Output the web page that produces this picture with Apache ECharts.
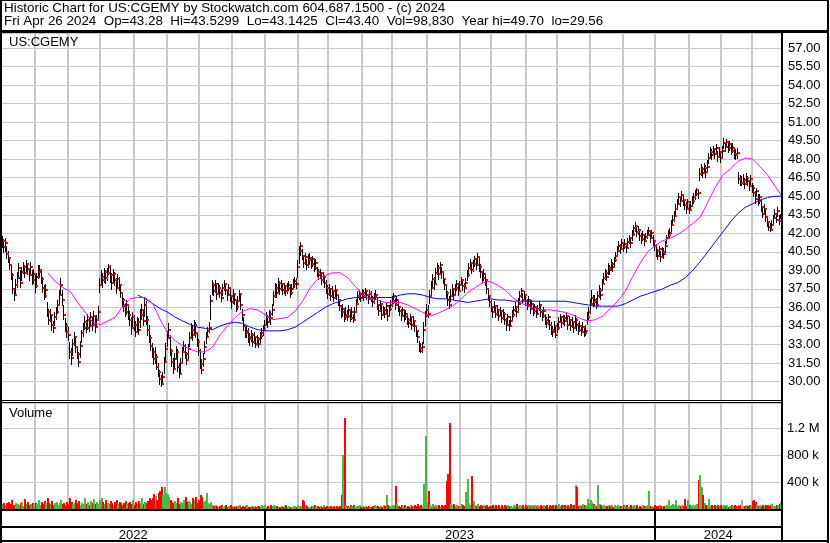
<!DOCTYPE html>
<html><head><meta charset="utf-8">
<script src="https://cdn.jsdelivr.net/npm/echarts@6/dist/echarts.min.js"></script>
<style>html,body{margin:0;padding:0;background:#fff}#c{width:830px;height:543px}</style>
</head><body><div id="c"></div><script>
// ---- data ----
const firstTradingDay = '2022-05-02';
const close = [
41.4,40.9,41.2,40.3,40.0, 39.4,38.6,37.5,37.0,37.8, 38.4,39.2,38.0,38.9,39.3, 38.8,39.5,39.1,38.6,39.3,
38.2,38.7,37.7,38.5,38.9, 39.0,38.3,37.6,36.9,37.4, 35.6,35.0,35.4,34.6,34.3, 35.2,35.6,36.2,37.0,37.8,
36.6,35.4,34.5,34.0,33.8, 32.4,31.9,33.0,33.6,32.8, 32.2,31.6,32.9,33.9,34.3, 34.8,34.3,35.0,34.5,35.2,
34.6,35.3,34.4,35.0,35.6, 37.8,38.5,38.2,38.9,38.4, 38.8,39.3,38.6,38.0,38.7, 38.2,37.6,38.3,37.8,37.2,
36.6,36.1,35.6,36.2,35.4, 35.0,34.3,35.2,34.6,34.0, 34.8,34.2,35.4,35.8,34.9, 36.2,35.0,34.2,33.5,32.9,
32.4,31.8,32.0,31.2,30.8, 30.2,29.8,30.4,31.6,32.6, 33.5,34.2,32.5,31.6,31.0, 31.8,32.4,31.2,30.6,31.5,
32.4,32.9,32.2,31.7,32.6, 33.5,34.2,33.8,34.6,33.9, 33.2,32.5,31.4,30.9,31.8, 32.8,33.6,34.1,34.3,36.5,
37.8,37.3,37.9,37.1,37.6, 37.2,36.8,37.6,37.9,37.4, 37.0,37.6,36.9,36.4,37.1, 36.6,36.0,36.5,37.1,36.2,
35.4,34.5,33.9,34.1,33.6, 33.4,33.8,33.2,33.6,33.0, 33.4,33.0,33.7,33.9,34.2, 34.6,35.2,34.8,35.5,35.1,
35.8,36.9,37.6,37.2,38.0, 37.5,37.9,37.4,37.7,37.3, 37.6,37.8,37.2,37.5,37.9, 38.1,37.9,39.3,40.6,41.0,
40.2,39.6,40.1,39.4,39.8, 40.0,39.5,39.9,39.2,39.6, 38.9,38.6,38.8,38.2,38.5, 38.0,37.6,37.1,37.5,36.9,
37.3,36.8,37.4,37.0,36.6, 36.1,35.6,35.9,35.2,35.4, 35.3,35.8,35.1,35.6,35.0, 35.6,36.3,36.9,37.1,36.8,
37.2,36.9,37.3,37.0,36.7, 37.1,36.8,36.4,36.9,37.0, 36.2,35.7,36.3,35.4,35.8, 35.5,36.1,35.3,35.9,36.2,
36.5,36.9,36.2,36.6,36.0, 35.7,35.3,35.8,35.2,35.5, 35.0,34.7,35.2,34.6,34.9, 34.5,34.1,33.6,32.7,32.5,
32.8,34.2,35.3,35.8,35.5, 36.9,37.6,38.3,37.9,38.8, 39.2,38.7,39.4,38.9,38.3, 37.8,37.2,36.6,36.2,36.9,
37.5,37.0,37.6,37.9,37.3, 37.8,38.2,37.7,37.6,38.0, 38.6,39.2,39.6,39.0,39.5, 39.9,39.4,40.1,39.3,38.9,
38.4,38.7,38.2,37.5,36.9, 36.4,36.0,35.6,36.1,35.5, 35.8,35.3,35.7,35.1,35.5, 35.0,34.6,35.2,34.5,34.9,
35.4,35.8,36.0,35.6,36.3, 36.9,37.3,36.6,37.0,36.5, 36.2,36.6,35.9,36.3,35.7, 36.0,35.5,35.9,36.2,35.6,
35.3,35.7,35.0,34.7,35.2, 34.6,34.2,34.0,34.5,33.8, 34.3,34.8,35.2,34.7,35.1, 34.9,35.3,34.6,35.0,34.5,
34.8,34.3,35.0,34.6,34.2, 34.5,34.0,34.4,33.9,34.1, 35.2,35.6,36.3,36.8,36.4, 36.6,36.2,36.9,37.4,37.0,
37.9,38.4,38.8,38.5,39.2, 39.0,39.5,39.3,39.8,40.2, 40.6,41.0,40.7,41.2,40.9, 41.1,40.8,41.3,41.6,41.2,
41.9,42.4,42.6,42.1,42.3, 41.8,41.5,41.9,41.4,41.7, 41.9,42.2,41.6,42.0,41.4, 41.0,40.6,40.2,40.7,40.1,
40.5,40.3,41.0,41.6,41.9, 42.0,42.7,43.1,43.4,44.0, 44.4,44.9,44.6,45.1,44.7, 44.3,44.0,44.5,43.9,44.2,
44.6,44.9,45.2,45.5,45.3, 46.8,47.2,46.9,47.3,47.0, 47.4,48.1,48.6,48.3,48.8, 48.4,48.9,48.2,48.6,48.1,
48.7,49.3,49.0,49.4,48.9, 49.2,48.7,48.9,48.4,48.3, 48.5,46.4,46.1,46.1,46.3, 46.0,46.5,46.2,45.8,46.4,
45.7,45.3,44.8,45.4,44.6, 44.9,44.1,43.6,44.0,43.3, 42.9,42.5,42.3,42.7,43.2, 43.6,43.1,43.8,43.0,43.40
];
const high = [
41.8,41.5,41.6,41.0,40.6, 40.1,39.5,38.8,37.6,38.3, 38.9,39.6,39.0,39.3,39.7, 39.4,39.8,39.6,39.2,39.7,
39.0,39.1,38.6,38.8,39.4, 39.4,39.1,38.5,37.8,37.9, 36.4,35.9,35.9,35.3,34.9, 35.6,36.0,36.6,37.4,38.4,
37.4,36.2,35.1,34.7,34.4, 33.2,32.7,33.4,34.0,33.5, 32.9,32.4,33.3,34.2,34.7, 35.3,35.0,35.5,35.2,35.6,
35.3,35.7,35.2,35.4,36.1, 38.4,39.0,38.8,39.2,39.0, 39.2,39.5,39.4,38.8,39.1, 38.9,38.4,38.7,38.5,37.9,
37.1,36.8,36.3,36.6,36.2, 35.7,35.2,35.6,35.4,34.9, 35.2,35.1,35.9,36.3,35.7, 36.8,36.5,35.3,34.6,33.8,
33.1,32.7,32.8,32.2,31.5, 30.9,30.5,30.8,32.0,33.1, 34.1,34.7,33.8,32.6,31.9, 32.3,32.9,32.6,31.5,31.9,
32.8,33.3,33.0,32.4,33.0, 34.0,34.7,34.5,35.0,34.8, 33.9,33.4,32.6,31.8,32.3, 33.3,34.0,34.4,34.8,37.0,
38.2,38.0,38.2,37.8,38.0, 37.8,37.4,37.9,38.2,37.9, 37.5,37.9,37.6,37.0,37.5, 37.2,36.6,36.9,37.4,37.0,
35.9,35.2,34.6,34.5,34.3, 33.9,34.2,33.9,34.0,33.6, 33.8,33.6,34.0,34.3,34.6, 35.0,35.6,35.4,35.8,35.7,
36.3,37.3,38.0,37.9,38.4, 38.1,38.2,37.9,38.0,37.8, 38.0,38.1,37.7,37.9,38.3, 38.5,38.4,39.8,41.0,41.3,
40.7,40.2,40.4,39.9,40.3, 40.4,40.1,40.2,39.8,39.9, 39.3,39.1,39.1,38.7,38.9, 38.4,38.2,37.8,37.9,37.6,
37.7,37.4,37.8,37.5,37.1, 36.7,36.2,36.3,35.8,36.0, 35.8,36.2,35.7,36.0,35.5, 36.0,36.7,37.3,37.4,37.2,
37.5,37.4,37.6,37.4,37.1, 37.4,37.3,36.9,37.2,37.4, 36.8,36.3,36.6,36.2,36.1, 36.0,36.4,35.9,36.2,36.6,
36.9,37.2,36.8,36.9,36.5, 36.1,35.9,36.0,35.7,35.8, 35.5,35.1,35.5,35.1,35.3, 34.9,34.6,34.2,33.3,33.1,
33.2,34.8,35.7,36.3,36.2, 37.4,38.1,38.7,38.5,39.2, 39.6,39.4,39.7,39.3,38.9, 38.4,37.9,37.3,36.9,37.5,
37.9,37.6,37.9,38.2,37.8, 38.1,38.5,38.1,38.0,38.4, 39.0,39.6,39.9,39.5,39.8, 40.2,40.0,40.4,40.0,39.5,
38.9,39.1,38.8,38.1,37.4, 36.9,36.6,36.1,36.5,36.0, 36.2,35.9,36.0,35.6,35.9, 35.6,35.1,35.5,35.0,35.3,
35.8,36.1,36.4,36.0,36.8, 37.3,37.6,37.2,37.3,36.9, 36.7,36.9,36.5,36.6,36.2, 36.3,36.0,36.2,36.5,36.1,
35.8,36.0,35.5,35.2,35.5, 35.0,34.8,34.5,34.9,34.4, 34.7,35.2,35.5,35.2,35.4, 35.4,35.6,35.2,35.3,35.0,
35.2,34.9,35.4,35.1,34.7, 34.9,34.6,34.8,34.3,34.6, 35.6,36.0,36.7,37.4,37.0, 37.0,36.8,37.3,37.8,37.6,
38.3,38.8,39.1,39.0,39.6, 39.4,39.9,39.7,40.1,40.5, 41.0,41.4,41.1,41.5,41.3, 41.5,41.2,41.6,41.9,41.6,
42.3,42.7,42.9,42.6,42.6, 42.2,42.0,42.2,41.9,42.0, 42.3,42.5,42.1,42.3,41.9, 41.4,41.1,40.7,41.0,40.6,
40.9,40.8,41.4,41.9,42.3, 42.4,43.1,43.5,43.8,44.4, 44.8,45.3,45.0,45.4,45.1, 44.8,44.5,44.8,44.4,44.6,
45.0,45.3,45.5,45.7,45.6, 47.3,47.6,47.4,47.7,47.5, 47.9,48.5,49.0,48.8,49.1, 48.9,49.2,48.7,49.0,48.6,
49.1,49.7,49.4,49.6,49.3, 49.5,49.2,49.3,48.9,48.8, 48.9,47.0,46.7,46.6,46.8, 46.5,46.9,46.6,46.3,46.7,
46.1,45.9,45.4,45.7,45.2, 45.2,44.7,44.2,44.4,43.9, 43.4,43.0,42.8,43.1,43.5, 44.0,43.6,44.1,43.5,43.53
];
const low = [
40.8,40.4,40.5,39.9,39.6, 39.0,38.2,37.1,36.5,37.0, 37.6,38.3,37.6,38.1,38.7, 38.4,38.9,38.6,38.1,38.6,
37.8,37.9,37.2,37.6,38.3, 38.4,37.9,37.2,36.6,36.8, 35.2,34.6,34.8,34.1,33.9, 34.5,35.0,35.5,36.2,37.1,
36.1,35.0,34.0,33.5,33.3, 31.8,31.3,32.1,32.9,32.3, 31.8,31.2,31.9,33.1,33.6, 34.2,33.9,34.2,34.0,34.5,
34.1,34.5,33.9,34.3,34.9, 37.2,37.7,37.6,38.0,37.9, 38.1,38.6,38.0,37.4,37.9, 37.7,37.1,37.5,37.3,36.8,
36.0,35.6,35.2,35.4,35.0, 34.5,33.8,34.4,34.1,33.6, 33.9,33.8,34.3,35.0,34.5, 35.2,34.6,33.7,33.1,32.5,
31.9,31.3,31.4,30.9,30.4, 29.7,29.56,29.9,30.6,31.5, 32.8,33.5,32.1,31.2,30.6, 31.0,31.7,30.8,30.3,30.5,
31.6,32.3,31.8,31.3,31.8, 32.8,33.4,33.3,33.8,33.5, 32.8,32.1,31.0,30.6,31.2, 32.2,33.0,33.6,33.9,35.0,
37.0,36.9,37.2,36.6,37.0, 36.8,36.4,36.9,37.3,37.0, 36.5,36.9,36.4,35.9,36.3, 36.2,35.6,35.8,36.4,35.8,
34.9,34.1,33.5,33.5,33.1, 32.9,33.2,32.8,33.0,32.7, 32.9,32.7,33.1,33.4,33.7, 34.1,34.5,34.3,34.8,34.6,
35.3,36.1,36.8,36.8,37.2, 37.0,37.3,37.0,37.1,36.9, 37.1,37.3,36.8,37.0,37.4, 37.6,37.5,38.4,39.5,40.2,
39.8,39.2,39.4,39.0,39.2, 39.4,39.1,39.3,38.9,39.0, 38.5,38.2,38.3,37.8,38.0, 37.6,37.1,36.7,36.9,36.5,
36.8,36.4,36.8,36.6,36.1, 35.7,35.1,35.2,34.8,35.0, 34.9,35.1,34.8,35.0,34.7, 35.0,35.7,36.3,36.6,36.4,
36.7,36.5,36.8,36.6,36.3, 36.6,36.4,36.0,36.3,36.6, 35.8,35.3,35.6,35.0,35.3, 35.1,35.5,34.9,35.3,35.7,
36.0,36.3,35.8,36.1,35.6, 35.3,34.9,35.2,34.8,35.0, 34.6,34.3,34.6,34.2,34.4, 34.0,33.6,33.1,32.4,32.3,
32.3,33.0,34.4,35.2,35.1, 36.3,36.9,37.5,37.4,38.0, 38.6,38.2,38.8,38.3,37.9, 37.4,36.8,36.1,35.9,36.4,
37.0,36.6,37.1,37.3,36.9, 37.3,37.7,37.3,37.2,37.6, 38.1,38.5,39.0,38.7,38.9, 39.3,39.0,39.5,38.9,38.4,
38.0,38.1,37.7,37.1,36.5, 36.0,35.6,35.1,35.6,35.1, 35.3,34.9,35.2,34.7,35.0, 34.6,34.1,34.6,34.1,34.4,
34.9,35.2,35.6,35.2,35.7, 36.3,36.8,36.3,36.5,36.1, 35.8,36.0,35.5,35.8,35.3, 35.5,35.1,35.4,35.7,35.2,
34.9,35.1,34.6,34.3,34.6, 34.2,33.8,33.6,33.9,33.5, 33.9,34.2,34.7,34.3,34.6, 34.5,34.8,34.2,34.5,34.1,
34.3,33.9,34.4,34.1,33.8, 34.0,33.7,33.9,33.6,33.7, 34.6,35.0,35.5,36.1,36.0, 36.1,35.9,36.3,36.8,36.6,
37.3,37.9,38.2,38.1,38.6, 38.6,39.0,38.9,39.3,39.7, 40.2,40.5,40.3,40.7,40.5, 40.7,40.4,40.9,41.1,40.8,
41.4,41.8,42.1,41.7,41.9, 41.4,41.1,41.4,41.0,41.3, 41.5,41.8,41.2,41.6,41.0, 40.6,40.1,39.8,40.2,39.7,
40.0,39.9,40.4,41.1,41.5, 41.6,42.1,42.6,42.9,43.4, 43.9,44.3,44.1,44.6,44.2, 43.9,43.6,44.0,43.6,43.8,
44.1,44.4,44.7,45.0,44.8, 46.2,46.6,46.5,46.8,46.5, 46.9,47.6,48.0,47.9,48.3, 48.0,48.3,47.8,48.1,47.7,
48.2,48.8,48.6,48.9,48.5, 48.7,48.3,48.5,48.0,47.9, 48.0,46.0,45.8,45.8,45.9, 45.6,46.0,45.8,45.4,45.9,
45.3,44.9,44.4,44.9,44.2, 44.4,43.7,43.2,43.5,42.9, 42.5,42.2,42.1,42.3,42.7, 43.2,42.8,43.3,42.7,43.14
];
// volume in thousands of shares
const volume = [
70,95,60,85,110, 80,130,62,55,95, 75,66,90,100,48, 150,80,110,60,70, 95,55,85,75,135, 62,105,80,115,90,
160,95,70,125,56, 85,105,65,95,140, 75,90,60,100,80, 170,110,70,92,130, 82,118,62,95,75, 160,78,105,56,112,
90,150,68,100,80, 130,160,105,75,140, 92,68,118,85,60, 100,135,75,110,86, 55,95,120,70,90, 105,75,138,62,98,
80,112,92,160,72, 104,85,125,170,140, 160,220,190,130,240, 260,320,210,320,240, 220,185,140,105,90, 120,95,160,75,110,
85,135,175,100,125, 105,75,165,130,180, 95,140,200,180,110, 125,230,92,75,105, 52,38,66,45,30, 40,55,28,48,62,
35,44,58,30,50, 26,45,38,55,32, 48,30,42,60,36, 28,50,34,44,25, 38,46,30,52,40, 55,32,48,36,60,
42,65,38,50,30, 35,48,26,40,55, 30,44,36,28,50, 45,32,60,48,38, 140,120,55,42,35, 30,46,38,52,28,
40,25,48,34,55, 32,44,28,50,38, 26,40,35,48,30, 42,210,800,1350,60, 48,35,62,40,55, 30,45,38,52,28,
44,36,50,30,46, 35,28,42,55,38, 50,32,46,36,60, 40,210,55,45,38, 48,62,340,70,45, 36,52,40,58,30,
44,35,62,48,38, 55,42,70,48,62, 50,370,1080,90,260, 60,45,72,38,55, 48,66,35,58,42, 62,410,520,1280,75,
55,80,45,62,38, 46,72,58,40,250, 450,85,52,490,120, 65,48,70,42,58, 38,55,46,62,35, 50,40,66,45,58,
42,60,35,52,48, 55,38,62,44,50, 36,58,45,70,40, 62,48,55,36,66, 45,52,40,60,38, 58,42,65,48,55,
40,62,46,58,35, 52,44,60,38,66, 48,70,42,55,62, 65,40,58,46,72, 55,60,350,330,48, 62,45,70,52,40,
150,95,140,110,75, 60,48,350,80,55, 42,66,50,38,58, 45,60,35,52,40, 58,42,48,36,62, 40,55,30,48,65,
38,52,44,60,35, 48,30,56,42,38, 55,260,40,48,35, 62,45,38,58,42, 35,50,44,66,140, 48,60,70,52,140,
38,55,45,62,48, 150,42,130,55,40, 60,48,52,70,430, 510,330,200,90,65, 58,150,48,62,40, 52,45,66,38,55,
48,60,42,55,35, 40,58,46,62,48, 55,42,60,130,50, 45,62,38,55,48, 120,135,110,60,45, 52,40,66,48,58,
62,45,55,70,42, 48,60,52,75,98.83
];
// moving averages, read once per week (Monday of each week) plus the last day
const maFastStartWeek = 6;
const maFast = [
38.8,38.1,37.6,37.3,36.4,35.6,34.8,34.6,34.9,35.2,
36.1,36.7,36.8,36.8,36.3,35.0,33.9,33.3,32.9,32.6,
32.4,32.4,32.8,33.8,34.5,35.2,35.7,35.9,35.8,35.4,
35.0,35.1,35.2,35.7,36.5,37.6,38.3,38.6,38.8,38.8,
38.4,37.7,37.0,36.7,36.6,36.4,36.4,36.4,36.2,35.9,
35.6,35.3,35.5,35.8,36.1,36.6,37.2,37.6,38.0,38.1,
37.8,37.4,36.8,36.4,36.1,35.9,35.8,35.8,35.7,35.6,
35.4,35.1,34.9,35.0,35.3,35.9,36.5,37.3,38.5,39.6,
40.5,41.0,41.4,41.6,41.9,42.3,42.8,43.3,44.5,45.7,
46.7,47.2,47.8,48.1,48.0,47.4,46.7,45.8,
45.1
];
const maSlowStartWeek = 18;
const maSlow = [
37.0,36.7,36.3,35.9,35.6,35.2,34.9,34.6,
34.4,34.3,34.2,34.5,34.7,34.8,34.7,34.4,34.2,34.1,
34.1,34.1,34.2,34.4,34.8,35.2,35.6,36.0,36.3,36.5,
36.7,36.8,36.8,36.8,36.8,36.8,36.8,37.0,37.1,37.1,
37.0,36.8,36.7,36.7,36.6,36.5,36.4,36.5,36.6,36.7,
36.6,36.6,36.5,36.5,36.5,36.5,36.5,36.5,36.5,36.5,
36.4,36.3,36.2,36.1,36.1,36.1,36.1,36.3,36.6,36.9,
37.1,37.3,37.5,37.8,38.0,38.4,39.0,39.7,40.5,41.3,
42.1,42.9,43.6,44.1,44.4,44.7,44.9,45.0,
45.0
];
const headerLine1 = 'Historic Chart for US:CGEMY by Stockwatch.com 604.687.1500 - (c) 2024';
const headerLine2 = 'Fri Apr 26 2024  Op=43.28  Hi=43.5299  Lo=43.1425  Cl=43.40  Vol=98,830  Year hi=49.70  lo=29.56';
const symbolLabel = 'US:CGEMY';
const volumeLabel = 'Volume';

// ---- build categories (weekdays) ----
const N = close.length;
const dates = [];
(function () {
  let t = Date.parse(firstTradingDay + 'T00:00:00Z');
  while (dates.length < N) {
    const d = new Date(t); const wd = d.getUTCDay();
    if (wd > 0 && wd < 6) dates.push(d.toISOString().slice(0, 10));
    t += 86400000;
  }
})();
const isMonthStart = (i) => i > 0 && dates[i].slice(0, 7) !== dates[i - 1].slice(0, 7);
const isYearStart = (i) => i > 0 && dates[i].slice(0, 4) !== dates[i - 1].slice(0, 4);
const years = [];
dates.forEach((d, i) => {
  const y = d.slice(0, 4);
  if (!years.length || years[years.length - 1].y !== y) years.push({ y: y, s: i, e: i });
  else years[years.length - 1].e = i;
});

const priceData = close.map((c, i) => [i, low[i], high[i], c]);
const volColor = close.map((c, i) => i === 0 || c > close[i - 1] ? '#4cb84c' : (c < close[i - 1] ? '#ff0000' : '#a8a8a8'));
const volData = volume.map((v, i) => [i, v]);
const maPts = (arr, startWeek) => arr.map((v, i) => [i === arr.length - 1 ? N - 1 : (startWeek + i) * 5, v]);

const FONT = '"Liberation Sans", Arial, sans-serif';
const GRID_C = '#c8c8c8';

const chart = echarts.init(document.getElementById('c'), null, { renderer: 'canvas' });

function xAx(gridIndex, intervalFn, color, width) {
  return {
    type: 'category', gridIndex: gridIndex, data: dates, boundaryGap: true,
    axisLine: { show: false }, axisTick: { show: false }, axisLabel: { show: false },
    splitLine: { show: true, interval: (i) => intervalFn(i), lineStyle: { color: color, width: width } }
  };
}

const frame = [
  [0, 0, 829, 1], [0, 0, 2, 543], [827, 0, 2, 543], [0, 30, 829, 3],
  [781, 33, 2, 509], [0, 400, 781, 1], [0, 402, 781, 1],
  [0, 509, 781, 2], [0, 526, 781, 2], [0, 540, 829, 2]
];
const graphics = frame.map(r => ({ type: 'rect', z: 100, silent: true, shape: { x: r[0], y: r[1], width: r[2], height: r[3] }, style: { fill: '#000' } }));
graphics.push({ type: 'text', z: 101, x: 4, y: 8, style: { text: headerLine1, font: '13.4px ' + FONT, fill: '#000', verticalAlign: 'middle' } });
graphics.push({ type: 'text', z: 101, x: 4, y: 21.5, style: { text: headerLine2, font: '13.4px ' + FONT, fill: '#000', verticalAlign: 'middle' } });
graphics.push({ type: 'text', z: 101, x: 9, y: 42, style: { text: symbolLabel, font: '13px ' + FONT, fill: '#000', verticalAlign: 'middle' } });
graphics.push({ type: 'text', z: 101, x: 9, y: 413, style: { text: volumeLabel, font: '13px ' + FONT, fill: '#000', verticalAlign: 'middle' } });

chart.setOption({
  animation: false,
  backgroundColor: '#fff',
  grid: [
    { left: 2, right: 48, top: 33, height: 367 },
    { left: 2, right: 48, top: 403, height: 106 },
    { left: 2, right: 48, top: 511, height: 30 }
  ],
  xAxis: [
    xAx(0, isMonthStart, GRID_C, 2),
    xAx(1, isMonthStart, GRID_C, 2),
    xAx(2, isYearStart, '#000', 2)
  ],
  yAxis: [
    {
      gridIndex: 0, type: 'value', position: 'right', min: 28.5, max: 58.22, interval: 1.5,
      axisLine: { show: false }, axisTick: { show: false },
      axisLabel: { showMinLabel: false, showMaxLabel: false, margin: 6, color: '#000', fontSize: 13, fontFamily: FONT, formatter: v => v.toFixed(2) },
      splitLine: { lineStyle: { color: GRID_C, width: 1 } }
    },
    {
      gridIndex: 1, type: 'value', position: 'right', min: 0, max: 1570, interval: 400,
      axisLine: { show: false }, axisTick: { show: false },
      axisLabel: { showMinLabel: false, showMaxLabel: false, margin: 5, color: '#000', fontSize: 13, fontFamily: FONT,
        formatter: v => v >= 1000 ? (v / 1000) + ' M' : v + ' k' },
      splitLine: { lineStyle: { color: GRID_C, width: 1 } }
    },
    { gridIndex: 2, type: 'value', min: 0, max: 1, show: false, splitLine: { show: false } }
  ],
  series: [
    {
      type: 'custom', xAxisIndex: 0, yAxisIndex: 0, data: priceData, encode: { x: 0, y: [1, 2] }, z: 2, clip: true,
      renderItem: (params, api) => {
        const lo = api.coord([api.value(0), api.value(1)]);
        const hi = api.coord([api.value(0), api.value(2)]);
        const x = Math.floor(lo[0] - 0.5);
        const y0 = Math.round(hi[1]), y1 = Math.round(lo[1]);
        return { type: 'rect', shape: { x: x, y: y0, width: 1, height: Math.max(1, y1 - y0) }, style: { fill: '#000' } };
      }
    },
    {
      type: 'custom', xAxisIndex: 0, yAxisIndex: 0, data: priceData, encode: { x: 0, y: 3 }, z: 3, clip: true,
      renderItem: (params, api) => {
        const c = api.coord([api.value(0), api.value(3)]);
        const x = Math.floor(c[0] - 0.5);
        return { type: 'rect', shape: { x: x + 1, y: Math.round(c[1]) - 1, width: 2, height: 2 }, style: { fill: '#ff0000' } };
      }
    },
    {
      type: 'line', xAxisIndex: 0, yAxisIndex: 0, data: maPts(maSlow, maSlowStartWeek), showSymbol: false, symbol: 'none', z: 4,
      lineStyle: { color: '#0000ff', width: 1 }, silent: true
    },
    {
      type: 'line', xAxisIndex: 0, yAxisIndex: 0, data: maPts(maFast, maFastStartWeek), showSymbol: false, symbol: 'none', z: 5,
      lineStyle: { color: '#ff00ff', width: 1 }, silent: true
    },
    {
      type: 'custom', xAxisIndex: 1, yAxisIndex: 1, data: volData, encode: { x: 0, y: 1 }, z: 2, clip: true,
      renderItem: (params, api) => {
        const i = api.value(0);
        const base = api.coord([i, 0]);
        const top = api.coord([i, api.value(1)]);
        const x0 = Math.round(base[0] - 1);
        const y0 = Math.round(top[1]);
        return { type: 'rect', shape: { x: x0, y: y0, width: 2, height: Math.max(1, Math.round(base[1]) - y0) }, style: { fill: volColor[params.dataIndex] } };
      }
    },
    {
      type: 'custom', xAxisIndex: 2, yAxisIndex: 2, data: years.map(o => [o.s, o.e]), encode: { x: [0, 1] }, z: 5,
      renderItem: (params, api) => {
        const w = api.size([1, 0])[0];
        const a = api.coord([api.value(0), 0.2]);
        const b = api.coord([api.value(1), 0.2]);
        const cx = ((a[0] - w / 2) + (b[0] + w / 2)) / 2;
        return { type: 'text', x: cx, y: a[1], style: { text: years[params.dataIndex].y, font: '13px ' + FONT, fill: '#000', align: 'center', verticalAlign: 'middle' } };
      }
    }
  ],
  graphic: graphics
});
</script></body></html>
